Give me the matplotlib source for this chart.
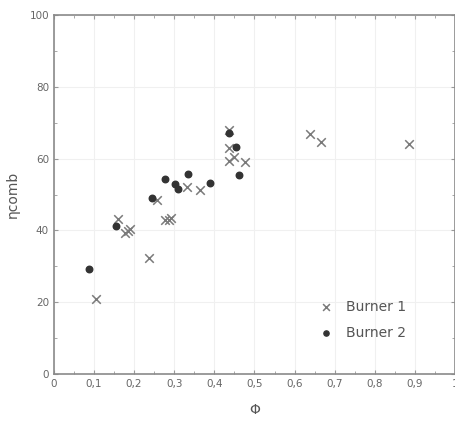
import matplotlib.pyplot as plt
import numpy as np
from matplotlib.ticker import MultipleLocator, FuncFormatter

# Burner 1 (crosses)
phi_b1 = [0.104, 0.238, 0.161, 0.184, 0.178, 0.190, 0.257, 0.277, 0.291, 0.287,
          0.332, 0.364, 0.436, 0.436, 0.436, 0.448, 0.477, 0.638, 0.667, 0.885]
eta_b1 = [20.8, 32.2, 43.1, 39.9, 39.2, 40.5, 48.6, 42.9, 43.4, 43.0,
          52.0, 51.3, 68.0, 62.9, 59.2, 60.5, 59.1, 66.8, 64.7, 64.2]

# Burner 2 (filled markers)
phi_b2 = [0.087, 0.155, 0.244, 0.276, 0.301, 0.310, 0.334, 0.388, 0.437, 0.454, 0.462]
eta_b2 = [29.2, 41.3, 49.1, 54.2, 52.8, 51.4, 55.7, 53.3, 67.0, 63.3, 55.3]

fig = plt.figure(figsize=(4.56, 4.28), dpi=100)
ax = fig.add_axes([0.118, 0.126, 0.88, 0.839])

ax.scatter(phi_b1, eta_b1, marker='x', s=38, color='#7a7a7a', linewidths=1.1,
           label='Burner 1', zorder=3)
ax.scatter(phi_b2, eta_b2, marker='o', s=22, color='#333333', label='Burner 2',
           zorder=3)

ax.set_xlim(0, 1)
ax.set_ylim(0, 100)
ax.xaxis.set_major_locator(MultipleLocator(0.1))
ax.xaxis.set_minor_locator(MultipleLocator(0.05))
ax.yaxis.set_major_locator(MultipleLocator(20))
ax.yaxis.set_minor_locator(MultipleLocator(10))
ax.xaxis.set_major_formatter(FuncFormatter(lambda v, p: ('%g' % round(v, 2)).replace('.', ',')))

ax.tick_params(which='both', direction='in', top=True, right=True,
               colors='#999999', labelcolor='#666666', labelsize=7.5)
ax.tick_params(which='major', length=3)
ax.tick_params(which='minor', length=2)
for s in ax.spines.values():
    s.set_color('#8a8a8a')
    s.set_linewidth(1.2)

ax.grid(True, which='major', color='#f0f0f0', linewidth=0.8)
ax.set_axisbelow(True)

ax.set_xlabel('Φ', color='#555555', fontsize=10, labelpad=10)
ax.set_ylabel('ηcomb', color='#555555', fontsize=10, labelpad=7)

leg = ax.legend(loc='lower right', bbox_to_anchor=(0.91, 0.06), frameon=False,
                fontsize=10, handletextpad=0.5, labelspacing=0.9, markerscale=0.8)
for t in leg.get_texts():
    t.set_color('#555555')

fig.savefig('out.png', dpi=100)
